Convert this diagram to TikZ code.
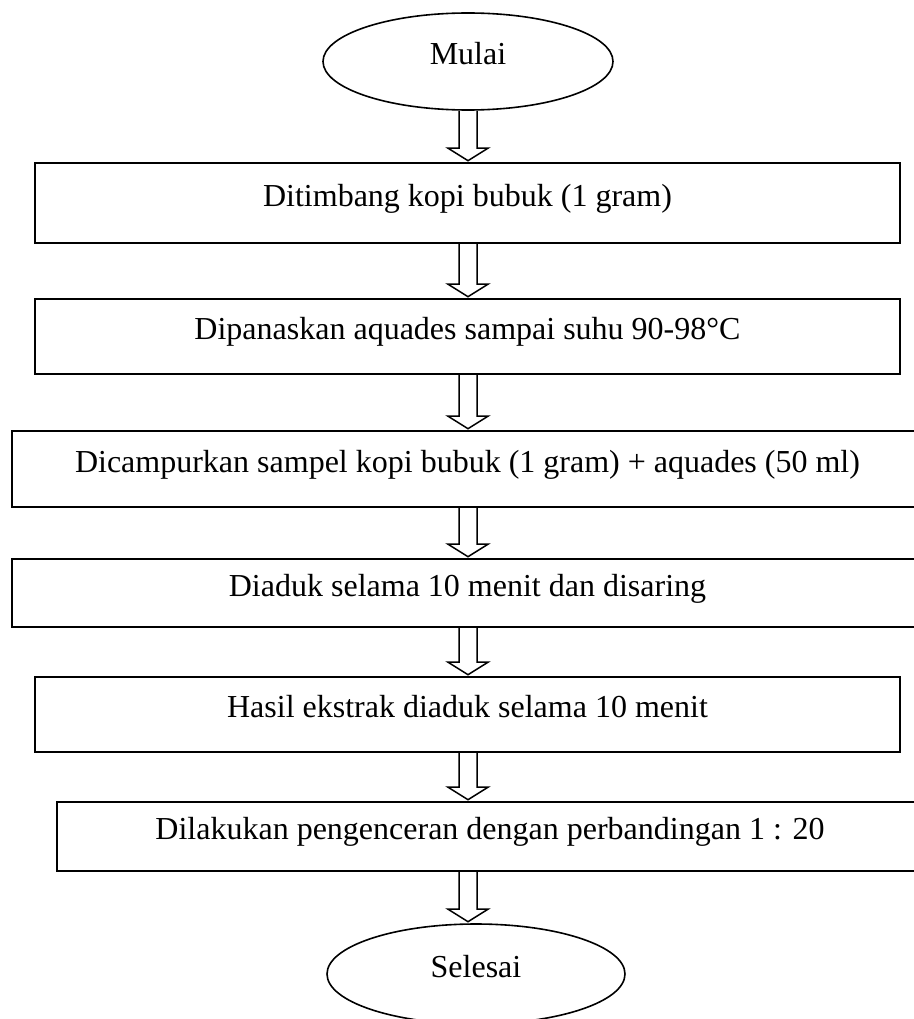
\documentclass[tikz,border=0pt]{standalone}
\usepackage{fontspec}
\setmainfont{Liberation Serif}
\usetikzlibrary{shapes.geometric,calc}

\begin{document}
\begin{tikzpicture}[x=1pt,y=-1pt,
  every node/.style={font=\fontsize{32}{38}\selectfont, inner sep=0pt,
    text height=12pt, text depth=6pt},
  terminal/.style={draw, line width=1.6pt, ellipse,
    minimum width=290pt, minimum height=97pt},
  process/.style={draw, line width=1.6pt, rectangle},
  blockarrow/.style={line width=1.5pt, line join=miter,
    to path={
      ($(\tikztostart)+(-9pt,0)$) -- ($(\tikztotarget)+(-9pt,14pt)$)
      -- ($(\tikztotarget)+(-20pt,14pt)$) -- ($(\tikztotarget)+(0,1.5pt)$)
      -- ($(\tikztotarget)+(20pt,14pt)$) -- ($(\tikztotarget)+(9pt,14pt)$)
      -- ($(\tikztostart)+(9pt,0)$)}}
]
\useasboundingbox (0,0) rectangle (913,1019);

% start and end terminals
\node[terminal] (mulai) at (468,61.5) {Mulai};

% process steps
\node[process, minimum width=865pt, minimum height=80pt] (b1) at (467.5,203)
  {Ditimbang kopi bubuk (1 gram)};
\node[process, minimum width=865pt, minimum height=75pt] (b2) at (467.5,336.5)
  {Dipanaskan aquades sampai suhu 90-98°C};
\node[process, minimum width=911pt, minimum height=76pt] (b3) at (467.5,469)
  {Dicampurkan sampel kopi bubuk (1 gram) + aquades (50 ml)};
\node[process, minimum width=911pt, minimum height=68pt] (b4) at (467.5,593)
  {Diaduk selama 10 menit dan disaring};
\node[process, minimum width=865pt, minimum height=75pt] (b5) at (467.5,714.5)
  {Hasil ekstrak diaduk selama 10 menit};
\node[process, minimum width=866pt, minimum height=69pt] (b6) at (490,836.5)
  {Dilakukan pengenceran dengan perbandingan 1 : 20};

\node[terminal, minimum width=298pt, minimum height=100pt] (selesai) at (476,974) {Selesai};

% hollow block arrows between the steps
\draw[blockarrow] (mulai.south) to (b1.north -| mulai.south);
\draw[blockarrow] (b1.south -| mulai.south) to (b2.north -| mulai.south);
\draw[blockarrow] (b2.south -| mulai.south) to (b3.north -| mulai.south);
\draw[blockarrow] (b3.south -| mulai.south) to (b4.north -| mulai.south);
\draw[blockarrow] (b4.south -| mulai.south) to (b5.north -| mulai.south);
\draw[blockarrow] (b5.south -| mulai.south) to (b6.north -| mulai.south);
\draw[blockarrow] (b6.south -| mulai.south) to (selesai.north -| mulai.south);
\end{tikzpicture}
\end{document}
